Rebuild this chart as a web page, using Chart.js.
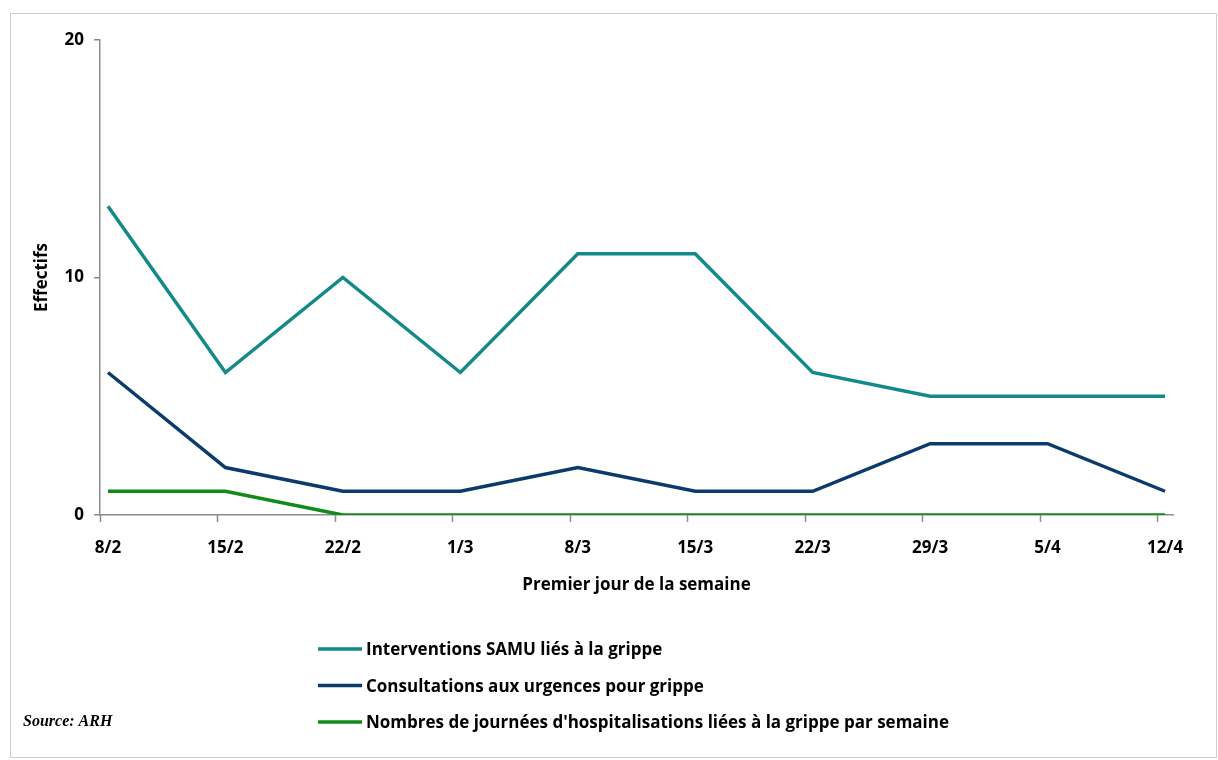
<!DOCTYPE html>
<html><head><meta charset="utf-8">
<script src="https://cdn.jsdelivr.net/npm/chart.js@4/dist/chart.umd.min.js"></script>
<style>
html,body{margin:0;padding:0;background:#fff;}
#wrap{position:absolute;left:0;top:0;width:1218px;height:760px;}
#frame{position:absolute;left:10px;top:13px;width:1207px;height:745px;border:1.5px solid #cfcfcf;box-sizing:border-box;}
</style></head>
<body>
<div id="wrap"><div id="frame"></div><canvas id="c" width="1218" height="760"></canvas></div>
<script>
const categories = ['8/2','15/2','22/2','1/3','8/3','15/3','22/3','29/3','5/4','12/4'];
const samu = [13, 6, 10, 6, 11, 11, 6, 5, 5, 5];
const urgences = [6, 2, 1, 1, 2, 1, 1, 3, 3, 1];
const hospit = [1, 1, 0, 0, 0, 0, 0, 0, 0, 0];
const seriesNames = [
  'Interventions SAMU liés à la grippe',
  'Consultations aux urgences pour grippe',
  "Nombres de journées d'hospitalisations liées à la grippe par semaine"
];
const yTicks = [0, 10, 20];
const colors = ['#138a88', '#0b3a6b', '#138a1a'];
const FONT = 'Open Sans';
const FS = 17;
const EDGE = 0.068; // axis extends slightly beyond first/last point

const toXY = arr => arr.map((v, i) => ({x: i, y: v}));

const tickMarks = {
  id: 'tickMarks',
  afterDraw(chart) {
    const s = chart.scales.x, ctx = chart.ctx;
    const step = s.getPixelForValue(1) - s.getPixelForValue(0);
    ctx.save();
    ctx.strokeStyle = '#8c8c8c';
    ctx.lineWidth = 1.5;
    ctx.beginPath();
    for (let i = 0; i < categories.length; i++) {
      const x = Math.round(s.getPixelForValue(i) - EDGE * step) + 0.5;
      ctx.moveTo(x, s.top);
      ctx.lineTo(x, s.top + 7);
    }
    ctx.stroke();
    ctx.restore();
  }
};

const customLegend = {
  id: 'customLegend',
  afterDraw(chart) {
    const ctx = chart.ctx;
    ctx.save();
    const x0 = 318, y0 = 649, dy = 36.5;
    chart.data.datasets.forEach((ds, i) => {
      const y = y0 + i * dy;
      ctx.strokeStyle = ds.borderColor;
      ctx.lineWidth = 3.5;
      ctx.beginPath();
      ctx.moveTo(x0, y);
      ctx.lineTo(x0 + 44, y);
      ctx.stroke();
      ctx.fillStyle = '#000';
      ctx.font = 'bold ' + FS + 'px "' + FONT + '"';
      ctx.textBaseline = 'middle';
      ctx.textAlign = 'left';
      ctx.fillText(ds.label, x0 + 48, y + 1.5);
    });
    ctx.font = 'italic bold 16px "Liberation Serif"';
    ctx.fillStyle = '#000';
    ctx.textBaseline = 'middle';
    ctx.fillText('Source: ARH', 23, 722);
    ctx.restore();
  }
};

new Chart(document.getElementById('c'), {
  type: 'line',
  data: {
    datasets: [
      {label: seriesNames[0], data: toXY(samu), borderColor: colors[0]},
      {label: seriesNames[1], data: toXY(urgences), borderColor: colors[1]},
      {label: seriesNames[2], data: toXY(hospit), borderColor: colors[2]}
    ].map(d => Object.assign(d, {borderWidth: 3.5, pointRadius: 0, tension: 0, fill: false}))
  },
  options: {
    responsive: false,
    animation: false,
    events: [],
    layout: {padding: {left: 32, top: 40, right: 45, bottom: 165}},
    plugins: {legend: {display: false}, tooltip: {enabled: false}},
    scales: {
      x: {
        type: 'linear',
        min: -EDGE, max: categories.length - 1 + EDGE,
        afterBuildTicks: s => { s.ticks = categories.map((c, i) => ({value: i})); },
        afterFit: s => { s.height = 80; },
        grid: {display: false},
        border: {display: true, color: '#8c8c8c', width: 1.5},
        ticks: {
          callback: (v) => categories[v] ?? '',
          color: '#000', font: {family: FONT, size: FS, weight: 'bold'},
          padding: 15, maxRotation: 0, autoSkip: false
        },
        title: {display: true, text: 'Premier jour de la semaine', color: '#000',
          font: {family: FONT, size: FS, weight: 'bold'}, padding: 0}
      },
      y: {
        min: 0, max: 20,
        afterBuildTicks: s => { s.ticks = yTicks.map(v => ({value: v})); },
        afterFit: s => { s.width = 68; },
        grid: {drawOnChartArea: false, tickLength: 6, color: '#8c8c8c', lineWidth: 1.5},
        border: {display: true, color: '#8c8c8c', width: 1.5},
        ticks: {color: '#000', font: {family: FONT, size: FS, weight: 'bold'}, padding: 10},
        title: {display: true, text: 'Effectifs', color: '#000',
          font: {family: FONT, size: FS, weight: 'bold'}, padding: 0}
      }
    }
  },
  plugins: [tickMarks, customLegend]
});
</script>
</body></html>
